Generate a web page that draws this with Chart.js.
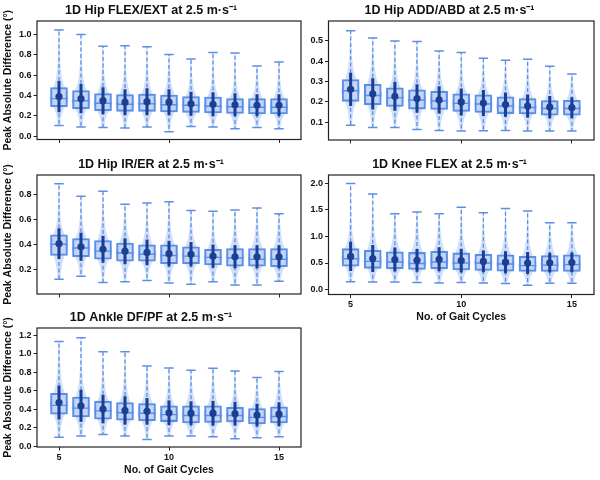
<!DOCTYPE html>
<html>
<head>
<meta charset="utf-8">
<script src="https://cdn.jsdelivr.net/npm/chart.js@4.4.1/dist/chart.umd.min.js"></script>
<style>
  body { margin: 0; background: #fff; }
  #wrap { position: relative; width: 600px; height: 480px; }
  canvas { position: absolute; }
</style>
</head>
<body>
<div id="wrap">
  <canvas id="hipFlex" width="305" height="155" style="left:0;top:0"></canvas>
  <canvas id="hipAdd" width="295" height="155" style="left:305px;top:0"></canvas>
  <canvas id="hipRot" width="305" height="154" style="left:0;top:154px"></canvas>
  <canvas id="knee" width="295" height="173" style="left:305px;top:154px"></canvas>
  <canvas id="ankle" width="305" height="173" style="left:0;top:307px"></canvas>
</div>
<script>
const cycles = [5, 6, 7, 8, 9, 10, 11, 12, 13, 14, 15];
const xTicks = [5, 10, 15];

// 1D Hip FLEX/EXT
const hipFlexMin = [0.105, 0.09, 0.085, 0.08, 0.09, 0.045, 0.095, 0.09, 0.075, 0.085, 0.075];
const hipFlexQ1 = [0.29, 0.27, 0.25, 0.245, 0.245, 0.24, 0.235, 0.23, 0.225, 0.22, 0.22];
const hipFlexMed = [0.37, 0.35, 0.325, 0.315, 0.32, 0.31, 0.305, 0.295, 0.29, 0.285, 0.285];
const hipFlexQ3 = [0.48, 0.45, 0.42, 0.41, 0.415, 0.405, 0.39, 0.385, 0.37, 0.37, 0.37];
const hipFlexMax = [1.045, 1.0, 0.885, 0.89, 0.88, 0.805, 0.76, 0.825, 0.82, 0.69, 0.73];
const hipFlexMean = [0.39, 0.37, 0.35, 0.335, 0.34, 0.335, 0.32, 0.315, 0.31, 0.305, 0.305];
const hipFlexSd = [0.15, 0.14, 0.13, 0.125, 0.13, 0.125, 0.115, 0.115, 0.11, 0.105, 0.105];
const hipFlexTicks = [0.0, 0.2, 0.4, 0.6, 0.8, 1.0];

// 1D Hip ADD/ABD
const hipAddMin = [0.085, 0.075, 0.075, 0.065, 0.06, 0.057, 0.058, 0.06, 0.057, 0.057, 0.057];
const hipAddQ1 = [0.203, 0.187, 0.178, 0.165, 0.163, 0.153, 0.148, 0.143, 0.141, 0.135, 0.135];
const hipAddMed = [0.255, 0.232, 0.22, 0.21, 0.205, 0.193, 0.19, 0.18, 0.173, 0.168, 0.168];
const hipAddQ3 = [0.31, 0.287, 0.27, 0.26, 0.252, 0.24, 0.235, 0.225, 0.217, 0.207, 0.208];
const hipAddMax = [0.55, 0.515, 0.5, 0.497, 0.45, 0.443, 0.415, 0.405, 0.41, 0.375, 0.338];
const hipAddMean = [0.262, 0.24, 0.228, 0.217, 0.21, 0.2, 0.195, 0.187, 0.18, 0.175, 0.172];
const hipAddSd = [0.08, 0.075, 0.07, 0.068, 0.065, 0.065, 0.062, 0.058, 0.055, 0.053, 0.05];
const hipAddTicks = [0.1, 0.2, 0.3, 0.4, 0.5];

// 1D Hip IR/ER
const hipRotMin = [0.12, 0.145, 0.095, 0.1, 0.11, 0.09, 0.08, 0.1, 0.075, 0.075, 0.105];
const hipRotQ1 = [0.31, 0.3, 0.28, 0.265, 0.265, 0.245, 0.245, 0.235, 0.225, 0.225, 0.22];
const hipRotMed = [0.4, 0.37, 0.345, 0.33, 0.32, 0.31, 0.305, 0.295, 0.29, 0.28, 0.28];
const hipRotQ3 = [0.475, 0.445, 0.43, 0.41, 0.395, 0.395, 0.38, 0.36, 0.365, 0.365, 0.365];
const hipRotMax = [0.885, 0.785, 0.825, 0.72, 0.73, 0.74, 0.67, 0.665, 0.675, 0.69, 0.645];
const hipRotMean = [0.405, 0.38, 0.36, 0.345, 0.335, 0.325, 0.32, 0.305, 0.3, 0.3, 0.3];
const hipRotSd = [0.12, 0.11, 0.105, 0.1, 0.1, 0.1, 0.095, 0.09, 0.09, 0.09, 0.09];
const hipRotTicks = [0.2, 0.4, 0.6, 0.8];

// 1D Knee FLEX
const kneeMin = [0.145, 0.14, 0.14, 0.13, 0.125, 0.13, 0.125, 0.115, 0.08, 0.12, 0.12];
const kneeQ1 = [0.44, 0.4, 0.39, 0.38, 0.39, 0.37, 0.36, 0.345, 0.34, 0.34, 0.34];
const kneeMed = [0.58, 0.53, 0.52, 0.49, 0.52, 0.5, 0.5, 0.48, 0.45, 0.46, 0.47];
const kneeQ3 = [0.77, 0.74, 0.71, 0.7, 0.72, 0.69, 0.665, 0.655, 0.625, 0.64, 0.655];
const kneeMax = [2.0, 1.8, 1.43, 1.46, 1.43, 1.55, 1.45, 1.53, 1.48, 1.26, 1.26];
const kneeMean = [0.625, 0.585, 0.565, 0.55, 0.57, 0.545, 0.53, 0.515, 0.5, 0.505, 0.51];
const kneeSd = [0.27, 0.25, 0.22, 0.21, 0.22, 0.22, 0.2, 0.2, 0.2, 0.18, 0.18];
const kneeTicks = [0.0, 0.5, 1.0, 1.5, 2.0];

// 1D Ankle DF/PF
const ankleMin = [0.095, 0.11, 0.125, 0.11, 0.07, 0.11, 0.11, 0.1, 0.08, 0.09, 0.1];
const ankleQ1 = [0.345, 0.315, 0.29, 0.28, 0.275, 0.265, 0.25, 0.255, 0.26, 0.24, 0.25];
const ankleMed = [0.44, 0.41, 0.38, 0.36, 0.355, 0.34, 0.33, 0.33, 0.33, 0.31, 0.32];
const ankleQ3 = [0.57, 0.53, 0.485, 0.47, 0.46, 0.435, 0.435, 0.435, 0.42, 0.405, 0.425];
const ankleMax = [1.13, 1.17, 1.02, 1.02, 0.865, 0.845, 0.82, 0.84, 0.81, 0.74, 0.805];
const ankleMean = [0.47, 0.435, 0.4, 0.385, 0.375, 0.36, 0.355, 0.355, 0.35, 0.335, 0.345];
const ankleSd = [0.18, 0.17, 0.15, 0.15, 0.14, 0.13, 0.125, 0.13, 0.125, 0.12, 0.125];
const ankleTicks = [0.0, 0.2, 0.4, 0.6, 0.8, 1.0, 1.2];

const LIGHT = "rgba(100,149,237,0.3)";
const MID = "#5b8fe6";
const DARK = "#1b3f93";
const INK = "#111";

Chart.defaults.font.family = "'Liberation Sans', Arial, sans-serif";
Chart.defaults.color = INK;

// violins, whiskers, medians and the frame
const boxPlugin = {
  id: "boxes",
  beforeDatasetsDraw(chart, args, o) {
    const { ctx, chartArea: a, scales: { x, y } } = chart;
    const s = o.stats;
    ctx.save();
    ctx.beginPath();
    ctx.rect(a.left, a.top, a.right - a.left, a.bottom - a.top);
    ctx.clip();
    cycles.forEach((c, i) => {
      const lo = s.min[i], hi = s.max[i], med = s.med[i];
      const sl = (med - s.q1[i]) * 1.3, sh = (s.q3[i] - med) * 1.3;
      const pts = [];
      for (let k = 0; k <= 80; k++) {
        const v = lo + (hi - lo) * k / 80;
        const z = (v - med) / (v < med ? sl : sh);
        pts.push([v, 0.42 / (1 + z * z)]);
      }
      ctx.beginPath();
      pts.forEach(([v, w], k) => {
        const px = x.getPixelForValue(c + w), py = y.getPixelForValue(v);
        k ? ctx.lineTo(px, py) : ctx.moveTo(px, py);
      });
      for (let k = pts.length - 1; k >= 0; k--) {
        ctx.lineTo(x.getPixelForValue(c - pts[k][1]), y.getPixelForValue(pts[k][0]));
      }
      ctx.closePath();
      ctx.fillStyle = LIGHT;
      ctx.fill();

      // whiskers
      const px = x.getPixelForValue(c);
      ctx.strokeStyle = MID;
      ctx.lineWidth = 1.3;
      ctx.setLineDash([4, 2.5]);
      ctx.beginPath();
      ctx.moveTo(px, y.getPixelForValue(s.q3[i]));
      ctx.lineTo(px, y.getPixelForValue(hi));
      ctx.moveTo(px, y.getPixelForValue(s.q1[i]));
      ctx.lineTo(px, y.getPixelForValue(lo));
      ctx.stroke();
      ctx.setLineDash([]);
      ctx.lineWidth = 1.5;
      ctx.beginPath();
      [lo, hi].forEach(v => {
        const py = y.getPixelForValue(v);
        ctx.moveTo(px - 4.7, py);
        ctx.lineTo(px + 4.7, py);
      });
      ctx.stroke();
    });
    ctx.restore();
  },
  afterDatasetDraw(chart, args, o) {
    if (args.index !== 0) return;
    const { ctx, scales: { x, y } } = chart;
    ctx.save();
    ctx.strokeStyle = MID;
    ctx.lineWidth = 1.4;
    ctx.beginPath();
    cycles.forEach((c, i) => {
      const px = x.getPixelForValue(c), py = y.getPixelForValue(o.stats.med[i]);
      ctx.moveTo(px - 8.5, py);
      ctx.lineTo(px + 8.5, py);
    });
    ctx.stroke();
    ctx.restore();
  },
  afterDraw(chart) {
    const { ctx, chartArea: a } = chart;
    ctx.save();
    ctx.strokeStyle = "#222";
    ctx.lineWidth = 1.2;
    ctx.strokeRect(a.left, a.top, a.right - a.left, a.bottom - a.top);
    ctx.restore();
  }
};

function drawPanel(id, title, stats, yMin, yMax, yTicks, p) {
  const ctx = document.getElementById(id);

  const data = {
    datasets: [
      {
        type: "bar",
        data: cycles.map((c, i) => ({ x: c, y: [stats.q1[i], stats.q3[i]] })),
        backgroundColor: "rgba(100,149,237,0.12)",
        borderColor: MID,
        borderWidth: 1.4,
        borderSkipped: false,
        barThickness: 17,
        grouped: false,
        order: 3,
      },
      {
        type: "bar",
        data: cycles.map((c, i) => ({ x: c, y: [stats.mean[i] - stats.sd[i], stats.mean[i] + stats.sd[i]] })),
        backgroundColor: DARK,
        borderWidth: 0,
        barThickness: 2.4,
        grouped: false,
        order: 2,
      },
      {
        type: "line",
        data: cycles.map((c, i) => ({ x: c, y: stats.mean[i] })),
        showLine: false,
        pointRadius: 3.6,
        pointBackgroundColor: DARK,
        pointBorderWidth: 0,
        order: 1,
      },
    ],
  };

  const tickFont = { size: 9, weight: "bold" };
  const config = {
    type: "bar",
    data,
    plugins: [boxPlugin],
    options: {
      responsive: false,
      animation: false,
      devicePixelRatio: 1,
      layout: { padding: { right: p.padRight } },
      plugins: {
        legend: { display: false },
        tooltip: { enabled: false },
        title: {
          display: true,
          text: title,
          font: { size: 12.5, weight: "bold" },
          color: INK,
          padding: { top: 3, bottom: 3 },
        },
        boxes: { stats },
      },
      scales: {
        x: {
          type: "linear",
          min: 4,
          max: 16,
          offset: false,
          afterBuildTicks: s => { s.ticks = xTicks.map(v => ({ value: v })); },
          afterFit: s => { s.height = p.xHeight; },
          grid: { offset: false, drawOnChartArea: false, tickLength: 3.5, color: "#222" },
          border: { display: false },
          ticks: { font: tickFont, padding: 1.5, maxRotation: 0, callback: v => (p.xLabels ? String(v) : "") },
          title: {
            display: p.xLabels,
            text: "No. of Gait Cycles",
            font: { size: 10.5, weight: "bold" },
            padding: { top: 0, bottom: 4 },
          },
        },
        y: {
          min: yMin,
          max: yMax,
          afterBuildTicks: s => { s.ticks = yTicks.map(v => ({ value: v })); },
          afterFit: s => { s.width = p.yWidth; },
          grid: { drawOnChartArea: false, tickLength: 3.5, color: "#222" },
          border: { display: false },
          ticks: { font: tickFont, padding: 2, callback: v => v.toFixed(1) },
          title: {
            display: p.yLabel,
            text: "Peak Absolute Difference (°)",
            font: { size: 10.5, weight: "bold" },
            padding: { top: 2, bottom: 0 },
          },
        },
      },
    },
  };

  new Chart(ctx, config);
}

drawPanel("hipFlex", "1D Hip FLEX/EXT at 2.5 m·s⁻¹",
  { min: hipFlexMin, q1: hipFlexQ1, med: hipFlexMed, q3: hipFlexQ3, max: hipFlexMax, mean: hipFlexMean, sd: hipFlexSd },
  -0.032, 1.134, hipFlexTicks,
  { yWidth: 37, padRight: 3, xHeight: 15.5, xLabels: false, yLabel: true });

drawPanel("hipAdd", "1D Hip ADD/ABD at 2.5 m·s⁻¹",
  { min: hipAddMin, q1: hipAddQ1, med: hipAddMed, q3: hipAddQ3, max: hipAddMax, mean: hipAddMean, sd: hipAddSd },
  0.013, 0.598, hipAddTicks,
  { yWidth: 23.5, padRight: 6, xHeight: 15, xLabels: false, yLabel: false });

drawPanel("hipRot", "1D Hip IR/ER at 2.5 m·s⁻¹",
  { min: hipRotMin, q1: hipRotQ1, med: hipRotMed, q3: hipRotQ3, max: hipRotMax, mean: hipRotMean, sd: hipRotSd },
  0.002, 0.954, hipRotTicks,
  { yWidth: 37, padRight: 3, xHeight: 14, xLabels: false, yLabel: true });

drawPanel("knee", "1D Knee FLEX at 2.5 m·s⁻¹",
  { min: kneeMin, q1: kneeQ1, med: kneeMed, q3: kneeQ3, max: kneeMax, mean: kneeMean, sd: kneeSd },
  -0.094, 2.16, kneeTicks,
  { yWidth: 23.5, padRight: 6, xHeight: 32.5, xLabels: true, yLabel: false });

drawPanel("ankle", "1D Ankle DF/PF at 2.5 m·s⁻¹",
  { min: ankleMin, q1: ankleQ1, med: ankleMed, q3: ankleQ3, max: ankleMax, mean: ankleMean, sd: ankleSd },
  -0.01, 1.276, ankleTicks,
  { yWidth: 37, padRight: 3, xHeight: 33, xLabels: true, yLabel: true });
</script>
</body>
</html>
